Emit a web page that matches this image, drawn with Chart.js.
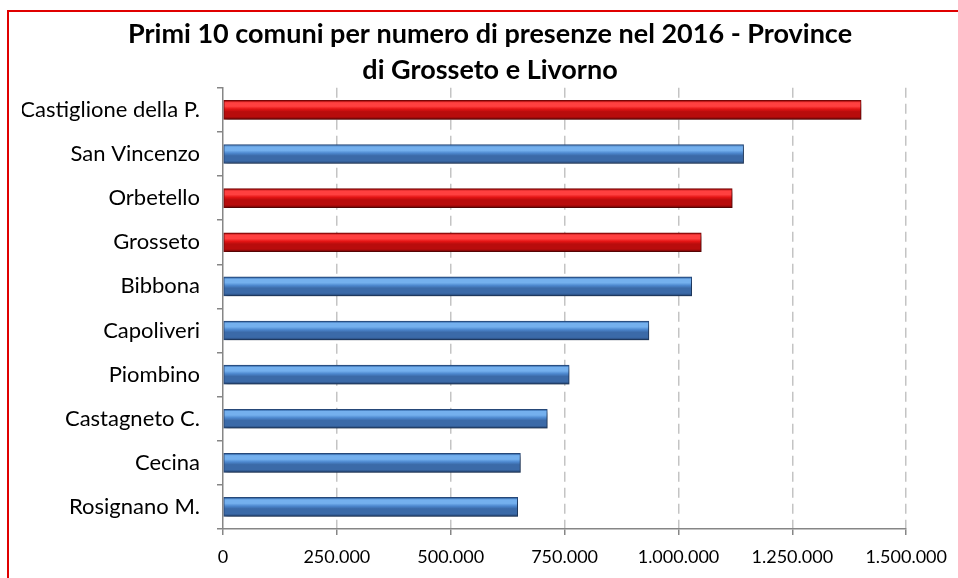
<!DOCTYPE html>
<html>
<head>
<meta charset="utf-8">
<script src="https://cdn.jsdelivr.net/npm/chart.js@4"></script>
<style>
  body { margin: 0; background: #fff; overflow: hidden; }
  #wrap { position: relative; width: 958px; height: 578px; }
  #frame { position: absolute; left: 7px; top: 10px; width: 960px; height: 580px;
           border-left: 2px solid #e00000; border-top: 2px solid #e00000; pointer-events: none; }
</style>
</head>
<body>
<div id="wrap">
  <canvas id="presenzeChart" width="958" height="578"></canvas>
  <div id="frame"></div>
</div>
<script>
const comuni = ['Castiglione della P.', 'San Vincenzo', 'Orbetello', 'Grosseto', 'Bibbona',
  'Capoliveri', 'Piombino', 'Castagneto C.', 'Cecina', 'Rosignano M.'];
const presenze = [1401000, 1143000, 1118000, 1050000, 1029000, 935000, 760000, 712000, 653000, 647000];
const provincia = ['GR', 'LI', 'GR', 'GR', 'LI', 'LI', 'LI', 'LI', 'LI', 'LI'];
const xTicks = [0, 250000, 500000, 750000, 1000000, 1250000, 1500000];

const fontFamily = 'Lato';

// colori "lucidi" come nell'originale
const shades = {
  GR: ['#a00808', '#ff4040', '#e41414', '#b80c0c', '#7a0606'],
  LI: ['#2c5e9e', '#74b0ee', '#4d88cf', '#3b6aa8', '#27497a']
};

function barColor(context) {
  const key = provincia[context.dataIndex] || 'LI';
  const s = shades[key];
  const yScale = context.chart.scales.y;
  if (!yScale || context.dataIndex === undefined) return s[2];
  const c = yScale.getPixelForValue(context.dataIndex);
  if (!isFinite(c)) return s[2];
  const g = context.chart.ctx.createLinearGradient(0, c - 9, 0, c + 9);
  g.addColorStop(0, s[0]);
  g.addColorStop(0.1, s[1]);
  g.addColorStop(0.3, s[1]);
  g.addColorStop(0.45, s[2]);
  g.addColorStop(0.6, s[3]);
  g.addColorStop(0.88, s[3]);
  g.addColorStop(1, s[4]);
  return g;
}

function formatIt(v) {
  return String(v).replace(/\B(?=(\d{3})+(?!\d))/g, '.');
}

const barShadow = {
  id: 'barShadow',
  beforeDatasetsDraw(chart) {
    const ctx = chart.ctx;
    ctx.save();
    ctx.shadowColor = 'rgba(0,0,0,0.35)';
    ctx.shadowBlur = 4;
    ctx.shadowOffsetX = 2;
    ctx.shadowOffsetY = 3;
  },
  afterDatasetsDraw(chart) {
    chart.ctx.restore();
  }
};

const ctx = document.getElementById('presenzeChart').getContext('2d');
const presenzeChart = new Chart(ctx, {
  type: 'bar',
  data: {
    labels: comuni,
    datasets: [{
      label: 'Presenze 2016',
      data: presenze,
      backgroundColor: barColor,
      borderColor: (context) => shades[provincia[context.dataIndex] || 'LI'][4],
      borderWidth: 1,
      borderSkipped: false,
      barThickness: 19
    }]
  },
  options: {
    indexAxis: 'y',
    responsive: false,
    animation: false,
    devicePixelRatio: 1,
    layout: {
      padding: { left: 22, right: 0, top: 0, bottom: 0 }
    },
    plugins: {
      legend: { display: false },
      tooltip: { enabled: false },
      title: {
        display: true,
        text: ['Primi 10 comuni per numero di presenze nel 2016 - Province', 'di Grosseto e Livorno'],
        color: '#000',
        font: { size: 27, family: fontFamily, weight: 'bold', lineHeight: 1.33 },
        padding: { top: 16, bottom: 0 }
      }
    },
    scales: {
      x: {
        min: 0,
        max: 1500000,
        afterBuildTicks: (scale) => {
          scale.ticks = xTicks.map(v => ({ value: v }));
        },
        afterFit: (scale) => { scale.height = 49; },
        ticks: {
          color: '#000',
          padding: 11,
          font: { size: 18, family: fontFamily },
          callback: (value) => formatIt(value)
        },
        grid: {
          color: (c) => (c.index === 0 ? 'rgba(0,0,0,0)' : '#c4c4c4'),
          lineWidth: 1.5,
          tickColor: '#868686',
          tickLength: 6,
          tickBorderDash: [1, 0]
        },
        border: { display: true, color: '#868686', width: 1.5, dash: [10, 6] }
      },
      y: {
        afterFit: (scale) => { scale.width = 201; },
        ticks: {
          color: '#000',
          padding: 17,
          font: { size: 22, family: fontFamily }
        },
        grid: {
          drawOnChartArea: false,
          offset: true,
          color: '#868686',
          tickLength: 6,
          lineWidth: 1.5
        },
        border: { display: true, color: '#868686', width: 1.5 }
      },
      y2: {
        position: 'right',
        afterFit: (scale) => { scale.width = 46; },
        ticks: { display: false },
        grid: { display: false },
        border: { display: false }
      }
    }
  },
  plugins: [barShadow]
});
</script>
</body>
</html>
